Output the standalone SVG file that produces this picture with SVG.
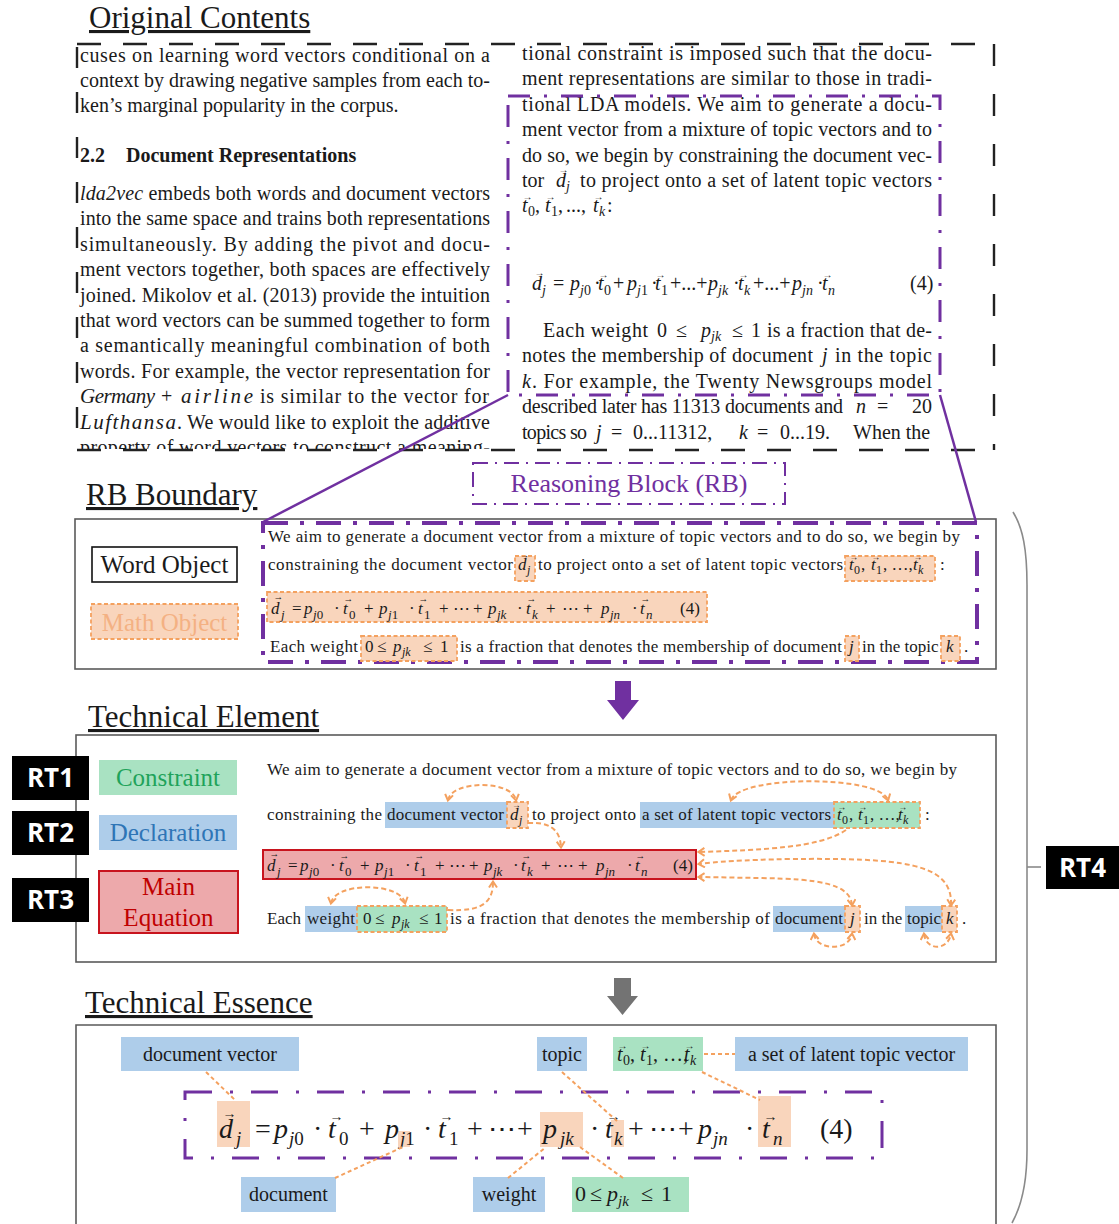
<svg xmlns="http://www.w3.org/2000/svg" width="1119" height="1224" viewBox="0 0 1119 1224">
<defs>
<style>
text{font-family:"Liberation Serif","DejaVu Serif",serif;fill:#1a1a1a}
.h{font-size:31px;text-decoration:underline}
.c{font-size:20px}
.r{font-size:17px}
.i{font-style:italic}
.b{font-weight:bold}
.frame{fill:none;stroke:#5a5a5a;stroke-width:1.6}
.kd{fill:none;stroke:#222;stroke-width:2.4}
.pu{fill:none;stroke:#7030A0}
.od{fill:#F9D5BC;stroke:#F4A15F;stroke-width:1.8;stroke-dasharray:4 2.5}
.og{fill:#A9E2C2;stroke:#F4A15F;stroke-width:1.8;stroke-dasharray:4 2.5}
.pe{fill:#F9D5BC}
.bl{fill:#AECDEA}
.gr{fill:#A9E2C2}
.oa{fill:none;stroke:#F4A15F;stroke-width:2;stroke-dasharray:5 3}
.ol{fill:none;stroke:#F4A15F;stroke-width:2;stroke-dasharray:4 3}
.lab{font-size:25px;text-anchor:middle}
.tag{font-size:20px;text-anchor:middle}
.rtt{font-family:"Open Sans","DejaVu Sans",sans-serif;font-weight:700;font-size:26px;fill:#fff;text-anchor:middle}
</style>
<marker id="ch" viewBox="0 0 10 10" refX="7" refY="5" markerWidth="10" markerHeight="10" markerUnits="userSpaceOnUse" orient="auto-start-reverse">
<path d="M1.5 1 L7.5 5 L1.5 9" fill="none" stroke="#F4A15F" stroke-width="2"/>
</marker>
<clipPath id="colclip"><rect x="70" y="30" width="440" height="419"/></clipPath>
</defs>
<rect width="1119" height="1224" fill="#fff"/>

<!-- Original contents: two columns of the paper -->
<g id="original-contents">
<text class="h" x="89" y="28">Original Contents</text>
<g clip-path="url(#colclip)">
<text class="c" x="80" y="62" textLength="410" lengthAdjust="spacing">cuses on learning word vectors conditional on a</text>
<text class="c" x="80" y="87" textLength="410" lengthAdjust="spacing">context by drawing negative samples from each to-</text>
<text class="c" x="80" y="112">ken’s marginal popularity in the corpus.</text>
<text class="c b" x="80" y="162">2.2</text>
<text class="c b" x="126" y="162">Document Representations</text>
<text class="c" x="80" y="200" textLength="410" lengthAdjust="spacing"><tspan class="i">lda2vec</tspan> embeds both words and document vectors</text>
<text class="c" x="80" y="225.4" textLength="410" lengthAdjust="spacing">into the same space and trains both representations</text>
<text class="c" x="80" y="250.8" textLength="410" lengthAdjust="spacing">simultaneously.  By adding the pivot and docu-</text>
<text class="c" x="80" y="276.2" textLength="410" lengthAdjust="spacing">ment vectors together, both spaces are effectively</text>
<text class="c" x="80" y="301.6" textLength="410" lengthAdjust="spacing">joined. Mikolov et al. (2013) provide the intuition</text>
<text class="c" x="80" y="327" textLength="410" lengthAdjust="spacing">that word vectors can be summed together to form</text>
<text class="c" x="80" y="352.4" textLength="410" lengthAdjust="spacing">a semantically meaningful combination of both</text>
<text class="c" x="80" y="377.8" textLength="410" lengthAdjust="spacing">words. For example, the vector representation for</text>
<text class="i" font-size="21" x="80" y="403.2" textLength="75" lengthAdjust="spacing">Germany</text>
<text class="c" x="161" y="403.2">+</text>
<text class="i" font-size="21" x="181" y="403.2" textLength="72" lengthAdjust="spacing">airline</text>
<text class="c" x="260" y="403.2" textLength="229" lengthAdjust="spacing">is similar to the vector for</text>
<text class="i" font-size="21" x="80" y="428.6" textLength="96" lengthAdjust="spacing">Lufthansa</text>
<text class="c" x="177" y="428.6" textLength="313" lengthAdjust="spacing">. We would like to exploit the additive</text>
<text class="c" x="80" y="454" textLength="410" lengthAdjust="spacing">property of word vectors to construct a meaning-</text>
</g>

<text class="c" x="522" y="60" textLength="410" lengthAdjust="spacing">tional constraint is imposed such that the docu-</text>
<text class="c" x="522" y="85.4" textLength="410" lengthAdjust="spacing">ment representations are similar to those in tradi-</text>
<text class="c" x="522" y="110.8" textLength="410" lengthAdjust="spacing">tional LDA models.  We aim to generate a docu-</text>
<text class="c" x="522" y="136.2" textLength="410" lengthAdjust="spacing">ment vector from a mixture of topic vectors and to</text>
<text class="c" x="522" y="161.6" textLength="410" lengthAdjust="spacing">do so, we begin by constraining the document vec-</text>
<text class="c" x="522" y="187">tor</text>
<text class="c" y="187"><tspan x="556" class="i">d</tspan><tspan x="566" dy="4" font-size="14" class="i">j</tspan></text>
<text font-size="10" x="558.5" y="172.5">→</text>
<text class="c" x="580" y="187" textLength="352" lengthAdjust="spacing">to project onto a set of latent topic vectors</text>
<text class="c" y="212.4"><tspan x="522" class="i">t</tspan><tspan x="528" dy="4" font-size="14">0</tspan><tspan x="535" dy="-4">,</tspan><tspan x="545" class="i">t</tspan><tspan x="551" dy="4" font-size="14">1</tspan><tspan x="558" dy="-4">,</tspan><tspan x="566">...,</tspan><tspan x="593" class="i">t</tspan><tspan x="599" dy="4" font-size="14" class="i">k</tspan><tspan x="607" dy="-4">:</tspan></text>
<text font-size="10" y="200"><tspan x="522.5">→</tspan><tspan x="545.5">→</tspan><tspan x="593.5">→</tspan></text>

<text class="c" y="290"><tspan x="532" class="i">d</tspan><tspan x="542" dy="5" font-size="14" class="i">j</tspan><tspan x="553" dy="-5">=</tspan><tspan x="570" class="i">p</tspan><tspan x="580" dy="5" font-size="14"><tspan class="i">j</tspan>0</tspan><tspan x="594" dy="-5">·</tspan><tspan x="598" class="i">t</tspan><tspan x="604" dy="5" font-size="14">0</tspan><tspan x="613" dy="-5">+</tspan><tspan x="627" class="i">p</tspan><tspan x="637" dy="5" font-size="14"><tspan class="i">j</tspan>1</tspan><tspan x="651" dy="-5">·</tspan><tspan x="655" class="i">t</tspan><tspan x="661" dy="5" font-size="14">1</tspan><tspan x="670" dy="-5">+...+</tspan><tspan x="708" class="i">p</tspan><tspan x="718" dy="5" font-size="14" class="i">jk</tspan><tspan x="733" dy="-5">·</tspan><tspan x="738" class="i">t</tspan><tspan x="744" dy="5" font-size="14" class="i">k</tspan><tspan x="753" dy="-5">+...+</tspan><tspan x="792" class="i">p</tspan><tspan x="802" dy="5" font-size="14" class="i">jn</tspan><tspan x="817" dy="-5">·</tspan><tspan x="822" class="i">t</tspan><tspan x="828" dy="5" font-size="14" class="i">n</tspan><tspan x="910" dy="-5">(4)</tspan></text>
<text font-size="10" x="534.5" y="275.5">→</text>
<text font-size="10" y="278"><tspan x="598.5">→</tspan><tspan x="655.5">→</tspan><tspan x="738.5">→</tspan><tspan x="822.5">→</tspan></text>

<text class="c" x="543" y="337" textLength="105" lengthAdjust="spacing">Each weight</text>
<text class="c" y="337"><tspan x="657">0</tspan><tspan x="676">≤</tspan><tspan x="701" class="i">p</tspan><tspan x="711" dy="4" font-size="14" class="i">jk</tspan><tspan x="732" dy="-4">≤</tspan><tspan x="751">1</tspan></text>
<text class="c" x="767" y="337" textLength="165" lengthAdjust="spacing">is a fraction that de-</text>
<text class="c" x="522" y="362.4" textLength="291" lengthAdjust="spacing">notes the membership of document</text>
<text class="c i" x="822" y="362.4">j</text>
<text class="c" x="835" y="362.4" textLength="97" lengthAdjust="spacing">in the topic</text>
<text class="c i" x="522" y="387.8">k</text>
<text class="c" x="532" y="387.8" textLength="400" lengthAdjust="spacing">.  For example, the Twenty Newsgroups model</text>
<text class="c" x="522" y="413.2" textLength="321" lengthAdjust="spacing">described later has 11313 documents and</text>
<text class="c" y="413.2"><tspan x="856" class="i">n</tspan><tspan x="877">=</tspan><tspan x="912">20</tspan></text>
<text class="c" x="522" y="438.6" textLength="65" lengthAdjust="spacing">topics so</text>
<text class="c" y="438.6"><tspan x="596" class="i">j</tspan><tspan x="611">=</tspan><tspan x="633">0...11312,</tspan><tspan x="739" class="i">k</tspan><tspan x="757">=</tspan><tspan x="780">0...19.</tspan><tspan x="853">When the</tspan></text>

<!-- dashed page frame -->
<path class="kd" d="M77 44 H995" stroke-dasharray="24 22"/>
<path class="kd" d="M77 450 H995" stroke-dasharray="24 22"/>
<path class="kd" d="M77 47 V450" stroke-dasharray="21 24"/>
<path class="kd" d="M994 44 V450" stroke-dasharray="22 28"/>
<!-- reasoning block inside the page -->
<rect class="pu" x="508" y="96" width="432" height="299" stroke-width="3" stroke-dasharray="22 14 3 14"/>
</g>

<!-- Reasoning Block label -->
<g id="reasoning-block-label">
<rect class="pu" x="473" y="463" width="312" height="41" stroke-width="2" stroke-dasharray="15 7 2 7"/>
<text x="629" y="492" font-size="26" text-anchor="middle" style="fill:#7030A0">Reasoning Block (RB)</text>
</g>

<!-- RB boundary panel -->
<g id="rb-boundary">
<text class="h" x="86" y="505">RB Boundary</text>
<rect class="frame" x="75" y="519" width="921" height="150"/>
<g id="word-object">
<rect x="92" y="547" width="145" height="35" fill="#fff" stroke="#111" stroke-width="1.6"/>
<text class="lab" x="164.5" y="573">Word Object</text>
</g>
<g id="math-object">
<rect class="od" x="91" y="604" width="147" height="35"/>
<text class="lab" x="164.5" y="631" style="fill:#F4B183">Math Object</text>
</g>
<rect class="pu" x="263" y="523" width="714" height="139" stroke-width="4" stroke-dasharray="25 12 4 12"/>
<text class="r" x="268" y="542" textLength="692" lengthAdjust="spacing">We aim to generate a document vector from a mixture of topic vectors and to do so, we begin by</text>
<text class="r" x="268" y="570" textLength="245" lengthAdjust="spacing">constraining the document vector</text>
<rect class="od" x="515" y="556" width="20" height="25"/>
<text class="r" y="570"><tspan x="518" class="i">d</tspan><tspan x="527" dy="4" font-size="12" class="i">j</tspan></text>
<text font-size="8.5" x="520" y="557.8">→</text>
<text class="r" x="538" y="570" textLength="305" lengthAdjust="spacing">to project onto a set of latent topic vectors</text>
<rect class="od" x="845" y="556" width="90" height="25"/>
<text class="r" y="570"><tspan x="849" class="i">t</tspan><tspan x="854" dy="4" font-size="12">0</tspan><tspan x="861" dy="-4">,</tspan><tspan x="871" class="i">t</tspan><tspan x="876" dy="4" font-size="12">1</tspan><tspan x="883" dy="-4">, …,</tspan><tspan x="913" class="i">t</tspan><tspan x="918" dy="4" font-size="12" class="i">k</tspan></text>
<text font-size="8.5" y="559.5"><tspan x="849.5">→</tspan><tspan x="871.5">→</tspan><tspan x="913.5">→</tspan></text>
<text class="r" x="940" y="570">:</text>
<rect class="od" x="267" y="592" width="440" height="30"/>
<text class="r" font-size="19" y="614"><tspan x="271" class="i">d</tspan><tspan x="281" dy="5" font-size="13" class="i">j</tspan><tspan x="292" dy="-5">=</tspan><tspan x="304" class="i">p</tspan><tspan x="313" dy="5" font-size="13"><tspan class="i">j</tspan>0</tspan><tspan x="334" dy="-5">·</tspan><tspan x="343" class="i">t</tspan><tspan x="349" dy="5" font-size="13">0</tspan><tspan x="364" dy="-5">+</tspan><tspan x="379" class="i">p</tspan><tspan x="388" dy="5" font-size="13"><tspan class="i">j</tspan>1</tspan><tspan x="409" dy="-5">·</tspan><tspan x="418" class="i">t</tspan><tspan x="424" dy="5" font-size="13">1</tspan><tspan x="439" dy="-5">+</tspan><tspan x="453">⋯</tspan><tspan x="473">+</tspan><tspan x="488" class="i">p</tspan><tspan x="497" dy="5" font-size="13" class="i">jk</tspan><tspan x="517" dy="-5">·</tspan><tspan x="526" class="i">t</tspan><tspan x="532" dy="5" font-size="13" class="i">k</tspan><tspan x="546" dy="-5">+</tspan><tspan x="562">⋯</tspan><tspan x="583">+</tspan><tspan x="601" class="i">p</tspan><tspan x="610" dy="5" font-size="13" class="i">jn</tspan><tspan x="632" dy="-5">·</tspan><tspan x="640" class="i">t</tspan><tspan x="646" dy="5" font-size="13" class="i">n</tspan><tspan x="680" dy="-5">(4)</tspan></text>
<text font-size="9.5" x="273.5" y="600.3">→</text>
<text font-size="9.5" y="602.2"><tspan x="343.5">→</tspan><tspan x="418.5">→</tspan><tspan x="526.5">→</tspan><tspan x="640.5">→</tspan></text>
<text class="r" x="270" y="652" textLength="88" lengthAdjust="spacing">Each weight</text>
<rect class="od" x="361" y="636" width="96" height="25"/>
<text class="r" y="652"><tspan x="365">0</tspan><tspan x="377">≤</tspan><tspan x="393" class="i">p</tspan><tspan x="402" dy="4" font-size="12" class="i">jk</tspan><tspan x="423" dy="-4">≤</tspan><tspan x="440">1</tspan></text>
<text class="r" x="460" y="652" textLength="382" lengthAdjust="spacing">is a fraction that denotes the membership of document</text>
<rect class="od" x="845" y="636" width="14" height="25"/>
<text class="r i" x="849" y="652">j</text>
<text class="r" x="862" y="652">in the topic</text>
<rect class="od" x="941" y="636" width="19" height="25"/>
<text class="r i" x="946" y="652">k</text>
<text class="r" x="964" y="652">.</text>
</g>

<!-- Technical element panel -->
<g id="technical-element">
<text class="h" x="88" y="727">Technical Element</text>
<rect class="frame" x="76" y="735" width="920" height="227"/>
<g id="constraint">
<rect class="gr" x="99" y="760" width="138" height="35"/>
<text class="lab" x="168" y="786" style="fill:#1FA35B">Constraint</text>
</g>
<g id="declaration">
<rect class="bl" x="99" y="815" width="138" height="35"/>
<text class="lab" x="168" y="841" style="fill:#2E75B6">Declaration</text>
</g>
<g id="main-equation">
<rect x="99" y="871" width="139" height="62" fill="#EDA9AB" stroke="#C8141E" stroke-width="2"/>
<text class="lab" x="168.5" y="895" style="fill:#C00000">Main</text>
<text class="lab" x="168.5" y="926" style="fill:#C00000">Equation</text>
</g>
<text class="r" x="267" y="775" textLength="690" lengthAdjust="spacing">We aim to generate a document vector from a mixture of topic vectors and to do so, we begin by</text>
<text class="r" x="267" y="820" textLength="115" lengthAdjust="spacing">constraining the</text>
<rect class="bl" x="385" y="802" width="122" height="26"/>
<text class="r" x="387" y="820" textLength="117" lengthAdjust="spacing">document vector</text>
<rect class="od" x="507" y="802" width="21" height="26"/>
<text class="r" y="820"><tspan x="510" class="i">d</tspan><tspan x="519" dy="4" font-size="12" class="i">j</tspan></text>
<text font-size="8.5" x="512" y="807.8">→</text>
<text class="r" x="532" y="820" textLength="104" lengthAdjust="spacing">to project onto</text>
<rect class="bl" x="640" y="802" width="194" height="26"/>
<text class="r" x="642" y="820" textLength="189" lengthAdjust="spacing">a set of latent topic vectors</text>
<rect class="og" x="834" y="802" width="86" height="26"/>
<text class="r" y="820"><tspan x="837" class="i">t</tspan><tspan x="842" dy="4" font-size="12">0</tspan><tspan x="849" dy="-4">,</tspan><tspan x="858" class="i">t</tspan><tspan x="863" dy="4" font-size="12">1</tspan><tspan x="870" dy="-4">, …,</tspan><tspan x="898" class="i">t</tspan><tspan x="903" dy="4" font-size="12" class="i">k</tspan></text>
<text font-size="8.5" y="809.5"><tspan x="837.5">→</tspan><tspan x="858.5">→</tspan><tspan x="898.5">→</tspan></text>
<text class="r" x="925" y="820">:</text>
<rect x="263" y="850" width="433" height="29" fill="#EDA9AB" stroke="#C8141E" stroke-width="2"/>
<text class="r" font-size="19" y="871"><tspan x="267" class="i">d</tspan><tspan x="277" dy="5" font-size="13" class="i">j</tspan><tspan x="288" dy="-5">=</tspan><tspan x="300" class="i">p</tspan><tspan x="309" dy="5" font-size="13"><tspan class="i">j</tspan>0</tspan><tspan x="330" dy="-5">·</tspan><tspan x="339" class="i">t</tspan><tspan x="345" dy="5" font-size="13">0</tspan><tspan x="360" dy="-5">+</tspan><tspan x="375" class="i">p</tspan><tspan x="384" dy="5" font-size="13"><tspan class="i">j</tspan>1</tspan><tspan x="405" dy="-5">·</tspan><tspan x="414" class="i">t</tspan><tspan x="420" dy="5" font-size="13">1</tspan><tspan x="435" dy="-5">+</tspan><tspan x="449">⋯</tspan><tspan x="469">+</tspan><tspan x="484" class="i">p</tspan><tspan x="493" dy="5" font-size="13" class="i">jk</tspan><tspan x="513" dy="-5">·</tspan><tspan x="521" class="i">t</tspan><tspan x="527" dy="5" font-size="13" class="i">k</tspan><tspan x="541" dy="-5">+</tspan><tspan x="557">⋯</tspan><tspan x="578">+</tspan><tspan x="596" class="i">p</tspan><tspan x="605" dy="5" font-size="13" class="i">jn</tspan><tspan x="627" dy="-5">·</tspan><tspan x="635" class="i">t</tspan><tspan x="641" dy="5" font-size="13" class="i">n</tspan><tspan x="673" dy="-5">(4)</tspan></text>
<text font-size="9.5" x="269.5" y="857.3">→</text>
<text font-size="9.5" y="859.2"><tspan x="339.5">→</tspan><tspan x="414.5">→</tspan><tspan x="521.5">→</tspan><tspan x="635.5">→</tspan></text>
<text class="r" x="267" y="924">Each</text>
<rect class="bl" x="305" y="906" width="52" height="26"/>
<text class="r" x="307" y="924" textLength="48" lengthAdjust="spacing">weight</text>
<rect class="og" x="357" y="906" width="90" height="26"/>
<text class="r" y="924"><tspan x="363">0</tspan><tspan x="375">≤</tspan><tspan x="392" class="i">p</tspan><tspan x="401" dy="4" font-size="12" class="i">jk</tspan><tspan x="419" dy="-4">≤</tspan><tspan x="434">1</tspan></text>
<text class="r" x="450" y="924" textLength="320" lengthAdjust="spacing">is a fraction that denotes the membership of</text>
<rect class="bl" x="773" y="906" width="72" height="26"/>
<text class="r" x="775" y="924" textLength="68" lengthAdjust="spacing">document</text>
<rect class="od" x="845" y="906" width="15" height="26"/>
<text class="r i" x="850" y="924">j</text>
<text class="r" x="864" y="924">in the</text>
<rect class="bl" x="905" y="906" width="37" height="26"/>
<text class="r" x="907" y="924">topic</text>
<rect class="od" x="942" y="906" width="15" height="26"/>
<text class="r i" x="946" y="924">k</text>
<text class="r" x="962" y="924">.</text>
</g>

<!-- Technical essence panel -->
<g id="technical-essence">
<text class="h" x="85" y="1013">Technical Essence</text>
<path class="frame" d="M76 1226 V1025 H996 V1226"/>
<g id="tag-document-vector"><rect class="bl" x="121" y="1037" width="178" height="34"/><text class="tag" x="210" y="1061">document vector</text></g>
<g id="tag-topic"><rect class="bl" x="537" y="1037" width="50" height="34"/><text class="tag" x="562" y="1061">topic</text></g>
<g id="tag-topic-vectors"><rect class="gr" x="613" y="1037" width="90" height="34"/>
<text font-size="20" y="1061"><tspan x="617" class="i">t</tspan><tspan x="623" dy="4" font-size="14">0</tspan><tspan x="630" dy="-4">,</tspan><tspan x="640" class="i">t</tspan><tspan x="646" dy="4" font-size="14">1</tspan><tspan x="653" dy="-4">, …,</tspan><tspan x="684" class="i">t</tspan><tspan x="690" dy="4" font-size="14" class="i">k</tspan></text>
<text font-size="10" y="1048.6"><tspan x="617.5">→</tspan><tspan x="640.5">→</tspan><tspan x="684.5">→</tspan></text></g>
<g id="tag-latent-set"><rect class="bl" x="735" y="1037" width="233" height="34"/><text class="tag" x="851.5" y="1061">a set of latent topic vector</text></g>
<g id="tag-document"><rect class="bl" x="241" y="1177" width="95" height="35"/><text class="tag" x="288.5" y="1201">document</text></g>
<g id="tag-weight"><rect class="bl" x="473" y="1177" width="72" height="35"/><text class="tag" x="509" y="1201">weight</text></g>
<g id="tag-range"><rect class="gr" x="572" y="1177" width="117" height="35"/>
<text font-size="22" y="1201"><tspan x="575">0</tspan><tspan x="590">≤</tspan><tspan x="607" class="i">p</tspan><tspan x="618" dy="5" font-size="15" class="i">jk</tspan><tspan x="641" dy="-5">≤</tspan><tspan x="661">1</tspan></text></g>
<g id="essence-equation">
<rect class="pu" x="185" y="1092" width="697" height="66" stroke-width="3" stroke-dasharray="27 18 3 18"/>
<rect class="pe" x="217" y="1101" width="33" height="46"/>
<rect class="pe" x="398" y="1131" width="12" height="16"/>
<rect class="pe" x="540" y="1112" width="43" height="35"/>
<rect class="pe" x="611" y="1120" width="13" height="27"/>
<rect class="pe" x="758" y="1096" width="33" height="51"/>
<text font-size="28" y="1138"><tspan x="219" class="i">d</tspan><tspan x="236" dy="7" font-size="19" class="i">j</tspan><tspan x="255" dy="-7">=</tspan><tspan x="274" class="i">p</tspan><tspan x="289" dy="7" font-size="19"><tspan class="i">j</tspan>0</tspan><tspan x="313" dy="-7">·</tspan><tspan x="328" class="i">t</tspan><tspan x="339" dy="7" font-size="19">0</tspan><tspan x="359" dy="-7">+</tspan><tspan x="385" class="i">p</tspan><tspan x="400" dy="7" font-size="19"><tspan class="i">j</tspan>1</tspan><tspan x="423" dy="-7">·</tspan><tspan x="438" class="i">t</tspan><tspan x="449" dy="7" font-size="19">1</tspan><tspan x="467" dy="-7">+</tspan><tspan x="488">⋯</tspan><tspan x="517">+</tspan><tspan x="543" class="i">p</tspan><tspan x="560" dy="7" font-size="19" class="i">jk</tspan><tspan x="590" dy="-7">·</tspan><tspan x="605" class="i">t</tspan><tspan x="614" dy="7" font-size="19" class="i">k</tspan><tspan x="628" dy="-7">+</tspan><tspan x="649">⋯</tspan><tspan x="678">+</tspan><tspan x="698" class="i">p</tspan><tspan x="713" dy="7" font-size="19" class="i">jn</tspan><tspan x="745" dy="-7">·</tspan><tspan x="762" class="i">t</tspan><tspan x="773" dy="7" font-size="19" class="i">n</tspan><tspan x="820" dy="-7">(4)</tspan></text>
<text font-size="14" x="222.5" y="1117.8">→</text>
<text font-size="14" y="1120.6"><tspan x="329.5">→</tspan><tspan x="439.5">→</tspan><tspan x="606.5">→</tspan><tspan x="763.5">→</tspan></text>
</g>
</g>

<!-- RT tags -->
<g id="rt-labels">
<g id="rt1"><rect x="12" y="756" width="77" height="44" fill="#000"/><text class="rtt" x="50.5" y="787">RT1</text></g>
<g id="rt2"><rect x="12" y="811" width="77" height="44" fill="#000"/><text class="rtt" x="50.5" y="842">RT2</text></g>
<g id="rt3"><rect x="12" y="878" width="77" height="44" fill="#000"/><text class="rtt" x="50.5" y="909">RT3</text></g>
<g id="rt4"><rect x="1046" y="846" width="73" height="43" fill="#000"/><text class="rtt" x="1082.5" y="877">RT4</text></g>
</g>

<!-- connectors -->
<g id="connectors">
<path class="pu" stroke-width="2.5" d="M508 395 L263 522"/>
<path class="pu" stroke-width="2.5" d="M940 395 L976 522"/>
<path d="M615 681 H631 V700 H639 L623 720 L607 700 H615 Z" fill="#7030A0"/>
<path d="M614 978 H631 V996 H638 L622.5 1015 L607 996 H614 Z" fill="#737373"/>
<path d="M1013 512 C1023 528 1027 550 1027 585 L1027 1150 C1027 1182 1022 1205 1012 1223" fill="none" stroke="#8a8a8a" stroke-width="1.6"/>
<path d="M1027 867 H1041" stroke="#8a8a8a" stroke-width="1.6"/>

<path class="oa" d="M448 800 C452 780 512 780 516 800" marker-start="url(#ch)" marker-end="url(#ch)"/>
<path class="oa" d="M528 823 C548 822 560 828 561 847" marker-end="url(#ch)"/>
<path class="oa" d="M731 800 C740 775 880 775 888 800" marker-start="url(#ch)" marker-end="url(#ch)"/>
<path class="oa" d="M846 830 C820 848 760 850 699 852" marker-end="url(#ch)"/>
<path class="oa" d="M951 905 C953 862 900 858 790 859 C740 860 715 862 699 864" marker-start="url(#ch)" marker-end="url(#ch)"/>
<path class="oa" d="M852 905 C850 884 820 879 760 878 L699 877" marker-start="url(#ch)" marker-end="url(#ch)"/>
<path class="oa" d="M814 934 C816 951 850 951 852 934" marker-start="url(#ch)" marker-end="url(#ch)"/>
<path class="oa" d="M924 934 C926 951 948 951 951 934" marker-start="url(#ch)" marker-end="url(#ch)"/>
<path class="oa" d="M331 903 C335 882 400 882 405 903" marker-start="url(#ch)" marker-end="url(#ch)"/>
<path class="oa" d="M448 910 C485 912 493 900 493 882" marker-end="url(#ch)"/>

<path class="ol" d="M206 1072 L236 1101"/>
<path class="ol" d="M335 1178 L405 1146"/>
<path class="ol" d="M508 1178 L546 1147"/>
<path class="ol" d="M623 1178 L580 1147"/>
<path class="ol" d="M562 1072 L617 1121"/>
<path class="ol" d="M702 1072 L760 1100"/>
<path class="ol" d="M704 1054 L735 1054"/>
</g>
</svg>
